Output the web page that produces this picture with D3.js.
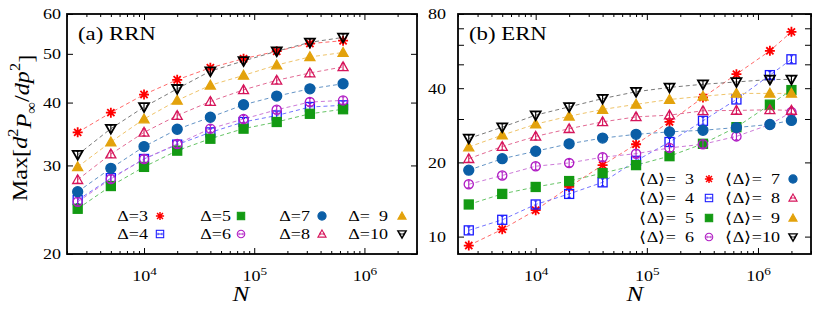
<!DOCTYPE html>
<html>
<head>
<meta charset="utf-8">
<script src="https://cdn.jsdelivr.net/npm/d3@7"></script>
<style>
  body { margin: 0; background: #fff; }
  svg { display: block; }
  svg text { font-family: "Liberation Serif", "Times New Roman", Times, serif; fill: #000; }
</style>
</head>
<body>
<svg id="chart" width="817" height="313"></svg>
<script>
// system sizes
var nRRN = [2500, 5000, 1e4, 2e4, 4e4, 8e4, 1.6e5, 3.2e5, 6.4e5];
var nERN = [2500, 5000, 1e4, 2e4, 4e4, 8e4, 1.6e5, 3.2e5, 6.4e5, 1.28e6, 2e6];

// (a) RRN, Delta = 3..10
var rrn3  = [34.9, 38.2, 41.5, 44.4, 46.9, 48.9, 50.6, 52.4, 53.1];
var rrn4  = [25.6, 28.3, 30.9, 33.0, 34.9, 36.6, 37.7, 39.2, 39.5];
var rrn5  = [24.6, 27.3, 29.8, 32.1, 33.9, 35.5, 36.6, 38.0, 38.8];
var rrn6  = [25.4, 28.2, 30.9, 33.1, 35.5, 37.1, 38.7, 40.1, 40.4];
var rrn7  = [26.6, 29.6, 32.7, 35.4, 37.4, 39.6, 41.2, 42.6, 43.6];
var rrn8  = [28.1, 31.6, 34.9, 37.7, 40.2, 42.4, 44.3, 45.8, 47.1];
var rrn9  = [29.8, 33.4, 37.1, 40.4, 43.3, 45.3, 47.5, 49.3, 50.3];
var rrn10 = [31.5, 35.5, 39.2, 42.6, 46.2, 48.4, 50.6, 52.7, 53.9];

// (b) ERN, <Delta> = 3..10
var ern3  = [9.2, 10.7, 12.8, 15.9, 19.5, 23.7, 29.2, 36.7, 45.6, 56.7, 67.7];
var ern4  = [10.6, 11.7, 13.5, 14.9, 16.6, 20.3, 24.2, 29.5, 36.0, 45.2, 52.4];
var ern5  = [13.5, 14.9, 15.9, 16.8, 18.1, 19.5, 21.2, 23.8, 27.8, 34.3, 39.3];
var ern6  = [16.3, 17.7, 19.3, 19.9, 21.0, 21.7, 22.9, 23.7, 25.5, 28.5, 32.0];
var ern7  = [18.6, 20.7, 22.2, 23.8, 25.1, 26.0, 26.6, 27.0, 27.7, 28.5, 29.6];
var ern8  = [20.7, 23.2, 25.5, 27.4, 29.2, 30.6, 31.1, 32.4, 32.5, 32.7, 32.5];
var ern9  = [23.1, 25.8, 28.6, 30.8, 32.8, 34.4, 36.0, 37.1, 38.1, 38.1, 38.1];
var ern10 = [25.0, 27.8, 31.1, 33.6, 36.3, 38.7, 40.3, 41.5, 42.4, 43.4, 43.4];

// figure space (U+2007) pads the one-digit labels like the original
var rrnLabels = ['Δ=3', 'Δ=4', 'Δ=5', 'Δ=6', 'Δ=7', 'Δ=8', 'Δ=\u20079', 'Δ=10'];
var ernLabels = ['⟨Δ⟩=\u20073', '⟨Δ⟩=\u20074', '⟨Δ⟩=\u20075', '⟨Δ⟩=\u20076',
                 '⟨Δ⟩=\u20077', '⟨Δ⟩=\u20078', '⟨Δ⟩=\u20079', '⟨Δ⟩=10'];

var rrnYTicks = [20, 30, 40, 50, 60];
var ernYTicks = [10, 20, 30, 40, 50, 60, 70, 80];
var ernYLabels = [10, 20, 40, 80];
var xMajor = [1e4, 1e5, 1e6];

var colors = ['#ff0000', '#1a1aff', '#139a13', '#b01cc4', '#0b5ea6', '#d6155b', '#e3a20c', '#000000'];
var lineColors = ['#ff6a6a', '#7474ff', '#66c466', '#cc7ad8', '#6494c6', '#e26a94', '#efc46a', '#7a7a7a'];
var shapes = ['star', 'sqOpen', 'sqFill', 'circOpen', 'circFill', 'triOpen', 'triFill', 'triDown'];

var SX = 1.2; // the original figure's text is wider than tall

var svg = d3.select('#chart');

function stretch(sel) {
  sel.each(function() {
    var t = d3.select(this);
    var x = +t.attr('x') || 0, y = +t.attr('y') || 0;
    t.attr('transform', 'translate(' + x + ',' + y + ') scale(' + SX + ',1) translate(' + (-x) + ',' + (-y) + ')');
  });
}

function drawMarker(g, shape, color, legend) {
  var m = g.append('g');
  if (shape === 'star') {
    m.append('path').attr('d', 'M-5,0H5M0,-5V5M-3.6,-3.6L3.6,3.6M-3.6,3.6L3.6,-3.6')
      .attr('stroke', color).attr('stroke-width', 1.8).attr('fill', 'none');
  } else if (shape === 'sqOpen' || shape === 'sqFill') {
    m.append('rect').attr('x', -4.5).attr('y', -4.5).attr('width', 9).attr('height', 9)
      .attr('fill', shape === 'sqFill' ? color : 'none')
      .attr('stroke', color).attr('stroke-width', 1.3);
  } else if (shape === 'circOpen' || shape === 'circFill') {
    m.append('circle').attr('r', shape === 'circFill' ? 5 : 4.6)
      .attr('fill', shape === 'circFill' ? color : 'none')
      .attr('stroke', color).attr('stroke-width', 1.3);
  } else if (shape === 'triOpen' || shape === 'triFill') {
    m.append('path').attr('d', 'M0,-5L5,3.8L-5,3.8Z')
      .attr('fill', shape === 'triFill' ? color : 'none')
      .attr('stroke', color).attr('stroke-width', 1.3);
  } else if (shape === 'triDown') {
    m.append('path').attr('d', 'M0,5L5,-3.8L-5,-3.8Z')
      .attr('fill', 'none').attr('stroke', color).attr('stroke-width', 1.8);
  }
  // small error bars drawn inside the open symbols
  if (shape === 'sqOpen' || shape === 'circOpen' || shape === 'triOpen' || shape === 'triDown') {
    var d = legend ? 'M-2.5,0H2.5M-2.5,-1.5V1.5M2.5,-1.5V1.5' : 'M0,-3.5V3.5M-1.5,-3.5H1.5M-1.5,3.5H1.5';
    m.append('path').attr('d', d).attr('stroke', color).attr('stroke-width', 1.1).attr('fill', 'none');
  }
  return m;
}

function minorTicks(domain) {
  var out = [];
  for (var e = 3; e <= 6; e++) {
    for (var k = 2; k <= 9; k++) {
      var v = k * Math.pow(10, e);
      if (v >= domain[0] && v <= domain[1]) out.push(v);
    }
  }
  return out;
}

function drawPanel(p) {
  var x = d3.scaleLog().domain([2000, 3e6]).range([p.x0, p.x1]);
  var y = d3.scaleLog().domain(p.yDomain).range([254, 14]);
  var g = svg.append('g');

  // ticks, inward on all four sides
  var left = g.append('g').attr('transform', 'translate(' + p.x0 + ',0)')
    .call(d3.axisLeft(y).tickValues(p.yTicks).tickSize(-6).tickSizeOuter(0).tickPadding(p.yPad)
      .tickFormat(d => p.yLabels.indexOf(d) >= 0 ? d : ''));
  g.append('g').attr('transform', 'translate(' + p.x1 + ',0)')
    .call(d3.axisRight(y).tickValues(p.yTicks).tickSize(-6).tickSizeOuter(0).tickFormat(''));
  var bottom = g.append('g').attr('transform', 'translate(0,254)')
    .call(d3.axisBottom(x).tickValues(xMajor).tickSize(-6).tickSizeOuter(0).tickPadding(16));
  g.append('g').attr('transform', 'translate(0,254)')
    .call(d3.axisBottom(x).tickValues(minorTicks(x.domain())).tickSize(-3).tickSizeOuter(0).tickFormat(''));
  g.append('g').attr('transform', 'translate(0,14)')
    .call(d3.axisTop(x).tickValues(xMajor).tickSize(-6).tickSizeOuter(0).tickFormat(''));
  g.append('g').attr('transform', 'translate(0,14)')
    .call(d3.axisTop(x).tickValues(minorTicks(x.domain())).tickSize(-3).tickSizeOuter(0).tickFormat(''));

  g.selectAll('.domain').remove();
  g.selectAll('.tick line').attr('stroke', '#000').attr('stroke-width', 1);
  g.selectAll('.tick text').attr('font-size', 15).attr('fill', '#000');
  left.selectAll('.tick text').attr('transform', 'scale(' + SX + ',1)');

  bottom.selectAll('.tick text').each(function(d) {
    var t = d3.select(this).text('').attr('transform', 'scale(' + SX + ',1)');
    t.append('tspan').text('10');
    t.append('tspan').attr('font-size', 11).attr('dy', '-0.55em').text(Math.round(Math.log10(d)));
  });

  // dashed guide lines
  var line = d3.line().x((d, i) => x(p.n[i])).y(d => y(d));
  p.series.forEach(function(s, i) {
    g.append('path').datum(s).attr('d', line)
      .attr('fill', 'none').attr('stroke', lineColors[i]).attr('stroke-width', 1)
      .attr('stroke-dasharray', '4,3');
  });

  // markers
  p.series.forEach(function(s, i) {
    s.forEach(function(v, j) {
      drawMarker(g, shapes[i], colors[i], false)
        .attr('transform', 'translate(' + x(p.n[j]) + ',' + y(v) + ')');
    });
  });

  // frame
  g.append('rect').attr('x', p.x0).attr('y', 14).attr('width', p.x1 - p.x0).attr('height', 240)
    .attr('fill', 'none').attr('stroke', '#000').attr('stroke-width', 1.8);

  // panel title
  g.append('text').attr('x', p.x0 + 11).attr('y', 40).attr('font-size', 19).text(p.title).call(stretch);

  // N label
  g.append('text').attr('x', p.nx).attr('y', 301).attr('text-anchor', 'middle')
    .attr('font-size', 21).attr('font-style', 'italic').text('N').call(stretch);

  // legend
  p.labels.forEach(function(lab, i) {
    var c = p.legendCol(i), r = p.legendRow(i);
    g.append('text').attr('x', p.legTextX[c]).attr('y', p.legRowY[r]).attr('dy', '0.35em')
      .attr('text-anchor', 'end').attr('font-size', 15).text(lab).call(stretch);
    drawMarker(g, shapes[i], colors[i], true)
      .attr('transform', 'translate(' + p.legSymX[c] + ',' + p.legRowY[r] + ') scale(0.82)');
  });
}

drawPanel({
  x0: 67, x1: 417, yDomain: [20, 60], yTicks: rrnYTicks, yLabels: rrnYTicks, yPad: 5,
  n: nRRN, series: [rrn3, rrn4, rrn5, rrn6, rrn7, rrn8, rrn9, rrn10],
  title: '(a) RRN', nx: 241, labels: rrnLabels,
  legendCol: i => Math.floor(i / 2), legendRow: i => i % 2,
  legTextX: [148, 231, 310, 388], legSymX: [160, 241, 322, 402], legRowY: [216, 234]
});

drawPanel({
  x0: 458, x1: 811, yDomain: [8.5, 80], yTicks: ernYTicks, yLabels: ernYLabels, yPad: 10,
  n: nERN, series: [ern3, ern4, ern5, ern6, ern7, ern8, ern9, ern10],
  title: '(b) ERN', nx: 635, labels: ernLabels,
  legendCol: i => Math.floor(i / 4), legendRow: i => i % 4,
  legTextX: [694, 780], legSymX: [709, 793], legRowY: [179, 198, 218, 237]
});

// y axis title
var yt = svg.append('text').attr('transform', 'translate(27,128) rotate(-90) scale(1.1,1)')
  .attr('text-anchor', 'middle').attr('font-size', 22);
yt.append('tspan').text('Max[');
yt.append('tspan').attr('font-style', 'italic').text('d');
yt.append('tspan').attr('font-size', 15).attr('dy', '-0.6em').text('2');
yt.append('tspan').attr('font-style', 'italic').attr('dy', '0.6em').text('P');
yt.append('tspan').attr('font-size', 15).attr('dy', '0.3em').text('∞');
yt.append('tspan').attr('dy', '-0.3em').text('/');
yt.append('tspan').attr('font-style', 'italic').text('dp');
yt.append('tspan').attr('font-size', 15).attr('dy', '-0.6em').text('2');
yt.append('tspan').attr('dy', '0.6em').text(']');
</script>
</body>
</html>
